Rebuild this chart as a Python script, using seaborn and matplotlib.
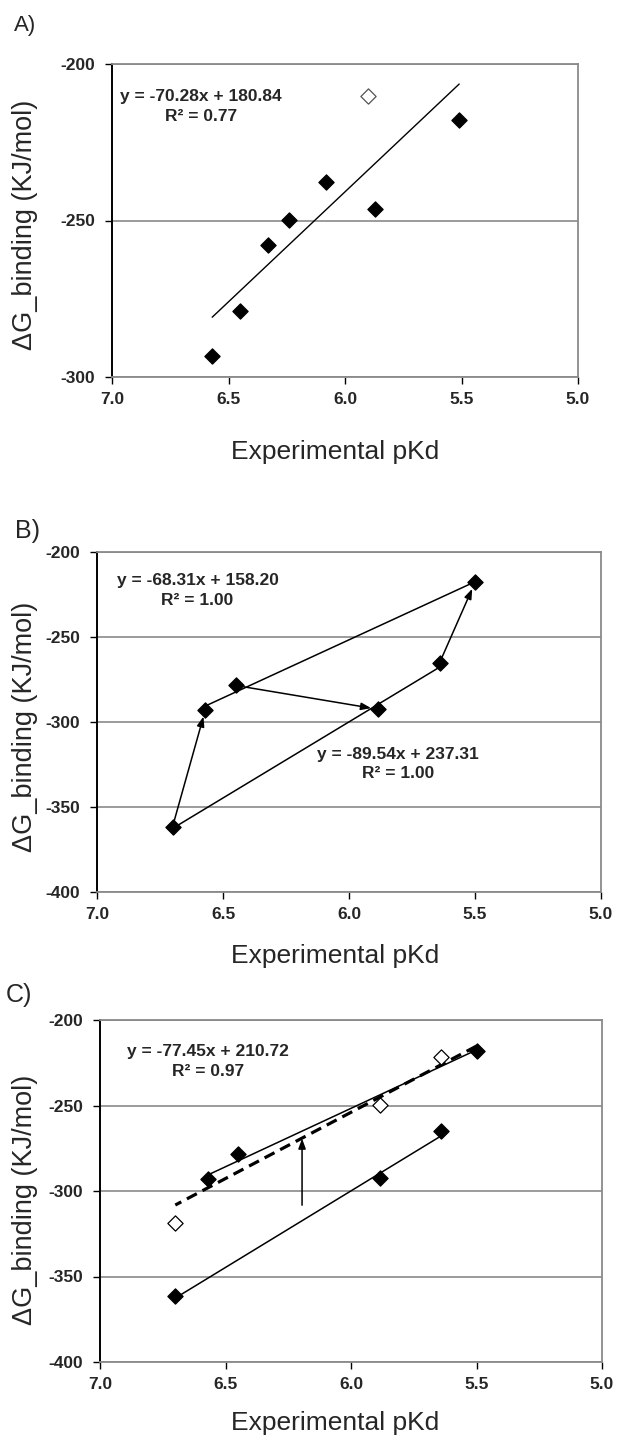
import numpy as np
import pandas as pd
import seaborn as sns
import matplotlib.pyplot as plt

# ---- data ----
# panel A: predicted binding energy vs experimental pKd
a_pkd = [6.57, 6.45, 6.33, 6.24, 6.08, 5.87, 5.51]
a_dg = [-293.2, -279.0, -257.7, -249.7, -237.7, -246.3, -217.9]
a_out_pkd = [5.90]          # open (excluded) point
a_out_dg = [-210.1]
a_slope, a_icpt = -70.28, 180.84

# panels B and C: same six compounds
bc_pkd = [6.70, 6.57, 6.45, 5.885, 5.64, 5.50]
bc_dg = [-361.5, -292.8, -278.5, -292.5, -265.0, -217.9]
upper_idx = [1, 2, 5]       # series fitted by upper line
lower_idx = [0, 3, 4]       # series fitted by lower line
up_slope, up_icpt = -68.31, 158.20
lo_slope, lo_icpt = -89.54, 237.31

# arrows in B: (from point, to point)
b_arrows = [(0, 1), (4, 5), (2, 3)]

# panel C: corrected values (open diamonds) and their fit
c_open_pkd = [6.70, 5.885, 5.64]
c_open_dg = [-318.7, -249.8, -221.5]
c_slope, c_icpt = -77.45, 210.72
c_arrow_x = 6.195
c_arrow_y = [-308.3, -269.3]

sns.set_style('white')
plt.rcParams['font.family'] = ['Liberation Sans', 'DejaVu Sans']

W, H = 619, 1437
fig = plt.figure(figsize=(W / 100, H / 100), dpi=100)


def px_axes(l, t, r, b):
    return fig.add_axes([l / W, 1 - b / H, (r - l) / W, (b - t) / H])


def style(ax, ymin):
    ax.set_xlim(7.0, 5.0)
    ax.set_ylim(ymin, -200)
    ax.set_xticks([7.0, 6.5, 6.0, 5.5, 5.0])
    ax.set_xticklabels(['7.0', '6.5', '6.0', '5.5', '5.0'])
    yt = list(range(-200, ymin - 1, -50))
    ax.set_yticks(yt)
    ax.set_yticklabels([str(v) for v in yt])
    ax.yaxis.grid(True, color='#8a8a8a', lw=1.2, zorder=0)
    ax.xaxis.grid(False)
    for s in ['top', 'right', 'bottom']:
        ax.spines[s].set_color('#8a8a8a')
        ax.spines[s].set_linewidth(1.3)
    ax.spines['left'].set_color('black')
    ax.spines['left'].set_linewidth(1.4)
    ax.tick_params(axis='both', direction='out', length=5, width=1,
                   color='black', labelsize=12.5, left=True, bottom=True)
    ax.tick_params(axis='x', pad=6)
    ax.tick_params(axis='y', pad=7)
    for lab in ax.get_xticklabels() + ax.get_yticklabels():
        lab.set_fontweight('bold')
    ax.set_xlabel('')
    ax.set_ylabel('')


def fit_line(ax, xs, slope, icpt, **kw):
    xr = np.array([min(xs), max(xs)])
    d = pd.DataFrame({'x': xr, 'y': slope * xr + icpt})
    sns.lineplot(data=d, x='x', y='y', ax=ax, color='black', sort=False, **kw)


def diamonds(ax, xs, ys, filled=True, edge='black'):
    sns.scatterplot(x=xs, y=ys, ax=ax, marker='D', s=60,
                    color='black' if filled else 'white',
                    edgecolor=edge, linewidth=0.9, zorder=4)


def eq(ax, x, y1, y2, s1, s2):
    ax.text(x, y1, s1, ha='center', va='center', fontsize=12.5, fontweight='bold')
    ax.text(x, y2, s2, ha='center', va='center', fontsize=12.5, fontweight='bold')


arrow_kw = dict(arrowstyle='-|>,head_length=0.6,head_width=0.22', color='black', lw=1.1)

# ---- A ----
axA = px_axes(112, 64, 578, 377)
fit_line(axA, a_pkd, a_slope, a_icpt, lw=1.0)
diamonds(axA, a_pkd, a_dg)
diamonds(axA, a_out_pkd, a_out_dg, filled=False, edge='#555555')
eq(axA, 6.617, -210.4, -216.8, 'y = -70.28x + 180.84', 'R² = 0.77')
style(axA, -300)

# ---- B ----
axB = px_axes(97, 552, 601, 892)
up_x = [bc_pkd[i] for i in upper_idx]
lo_x = [bc_pkd[i] for i in lower_idx]
fit_line(axB, up_x, up_slope, up_icpt, lw=1.1)
fit_line(axB, lo_x, lo_slope, lo_icpt, lw=1.1)
for i, j in b_arrows:
    axB.annotate('', xy=(bc_pkd[j], bc_dg[j]), xytext=(bc_pkd[i], bc_dg[i]),
                 arrowprops=dict(shrinkA=6 if i == 2 else 0, shrinkB=5, **arrow_kw))
diamonds(axB, bc_pkd, bc_dg)
eq(axB, 6.601, -217.0, -228.3, 'y = -68.31x + 158.20', 'R² = 1.00')
eq(axB, 5.805, -319.0, -330.3, 'y = -89.54x + 237.31', 'R² = 1.00')
style(axB, -400)

# ---- C ----
axC = px_axes(100, 1020, 602, 1362)
fit_line(axC, up_x, up_slope, up_icpt, lw=1.1)
fit_line(axC, lo_x, lo_slope, lo_icpt, lw=1.1)
fit_line(axC, bc_pkd, c_slope, c_icpt, lw=2.3, linestyle=(0, (3.5, 2)))
axC.annotate('', xy=(c_arrow_x, c_arrow_y[1]), xytext=(c_arrow_x, c_arrow_y[0]),
             arrowprops=dict(shrinkA=0, shrinkB=0, **arrow_kw))
diamonds(axC, bc_pkd, bc_dg)
diamonds(axC, c_open_pkd, c_open_dg, filled=False)
eq(axC, 6.571, -218.5, -230.2, 'y = -77.45x + 210.72', 'R² = 0.97')
style(axC, -400)

# ---- panel letters and axis titles ----
for letter, (x, y, fs) in {'A)': (14, 25, 16), 'B)': (15, 531, 18), 'C)': (6, 995, 18)}.items():
    fig.text(x / W, 1 - y / H, letter, fontsize=fs, ha='left', va='center')

for yc, xl_y in [(225, 452), (727, 956), (1200, 1423)]:
    fig.text(25 / W, 1 - yc / H, 'ΔG_binding (KJ/mol)', rotation=90,
             fontsize=19.5, ha='center', va='center')
    fig.text(335 / W, 1 - xl_y / H, 'Experimental pKd', fontsize=19,
             ha='center', va='center')

fig.savefig('out.png', dpi=100)
